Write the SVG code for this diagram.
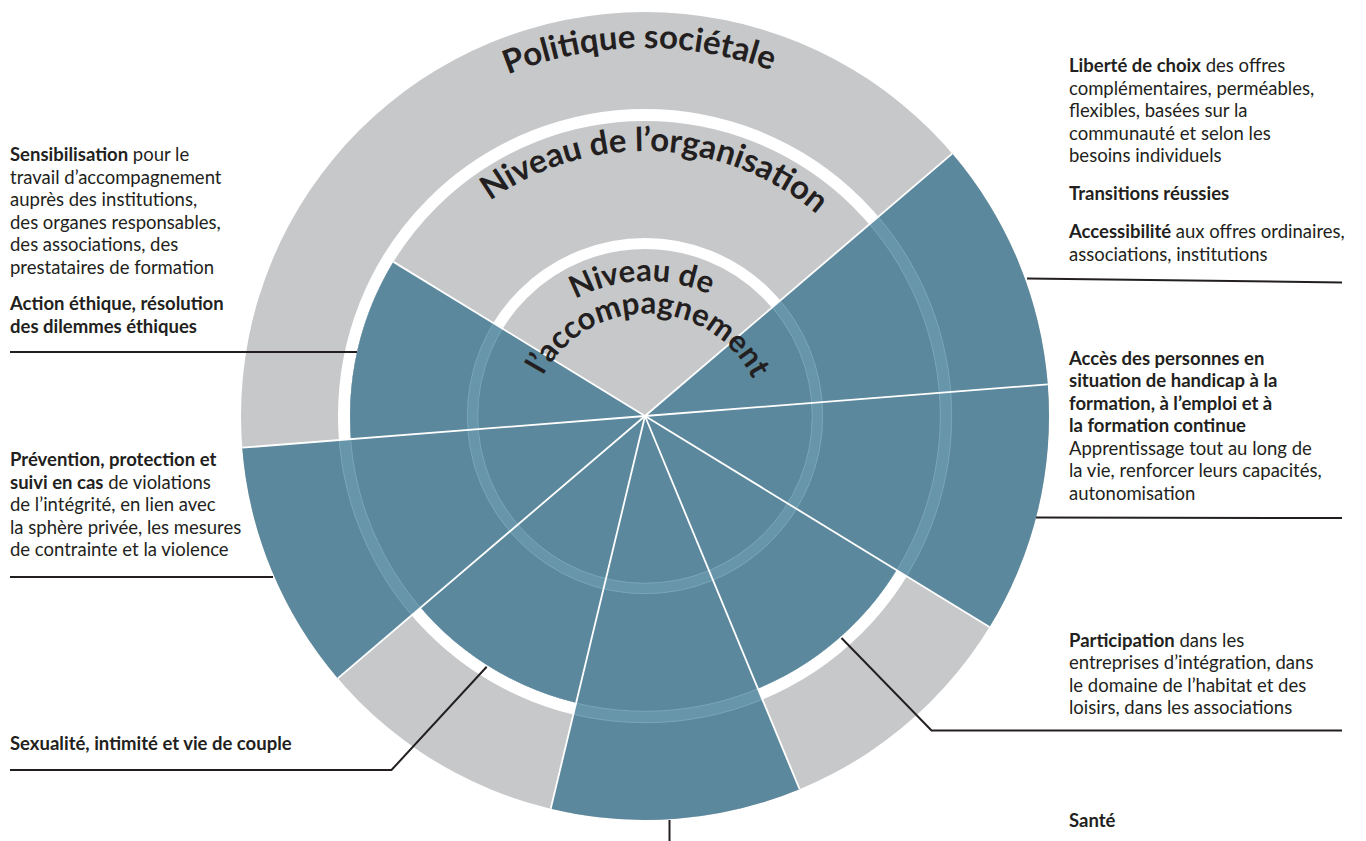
<svg xmlns="http://www.w3.org/2000/svg" width="1366" height="841" viewBox="0 0 1366 841">
<defs>
<style>
.gray{fill:#c7c8ca}
.blue{fill:#5b889d}
.spoke{stroke:#ffffff;stroke-width:1.8;fill:none}
.band{fill:none;stroke:#6796aa}
.bandedge{fill:none;stroke:#84acbe;stroke-width:0.7}
.gap{fill:none;stroke:#ffffff}
.lbl{font-family:Lato,"Noto Sans",sans-serif;font-size:18.5px;fill:#231f20}
.b{font-weight:700}
.arc{font-family:Lato,"Noto Sans",sans-serif;font-weight:700;font-size:33px;fill:#231f20}
.arcs{font-size:31px}
.lead{stroke:#231f20;stroke-width:2;fill:none}
</style>
<clipPath id="blueclip">
<path d="M645 416 L393.47 261.86 A295 295 0 1 0 869.32 224.41 Z"/>
<path d="M645 416 L989.47 627.09 A404 404 0 0 0 952.21 153.62 Z"/>
<path d="M645 416 L242.24 447.70 A404 404 0 0 0 337.79 678.38 Z"/>
<path d="M645 416 L550.69 808.84 A404 404 0 0 0 799.60 789.25 Z"/>
</clipPath>
<path id="arcPol" d="M281.63 357.81 A368 368 0 0 1 1006.36 346.41"/>
<path id="arcOrg" d="M386.08 359.55 A265 265 0 0 1 907.61 380.49"/>
<path id="arcNiv" d="M497.47 410.98 A151 151 0 0 1 794.70 400.61"/>
<path id="arcAcc" d="M529.04 428.91 A118 118 0 0 1 765.00 433.03"/>
</defs>

<g id="wheel">
<circle class="gray" cx="645" cy="416" r="404"/>
<circle class="gap" cx="645" cy="416" r="301" stroke-width="12"/>
<circle class="gap" cx="645" cy="416" r="172.5" stroke-width="11"/>
<g class="blue">
<path d="M645 416 L393.47 261.86 A295 295 0 1 0 869.32 224.41 Z"/>
<path d="M645 416 L989.47 627.09 A404 404 0 0 0 952.21 153.62 Z"/>
<path d="M645 416 L242.24 447.70 A404 404 0 0 0 337.79 678.38 Z"/>
<path d="M645 416 L550.69 808.84 A404 404 0 0 0 799.60 789.25 Z"/>
</g>
<g clip-path="url(#blueclip)">
<circle class="band" cx="645" cy="416" r="301" stroke-width="12"/>
<circle class="band" cx="645" cy="416" r="172.5" stroke-width="11"/>
<circle class="bandedge" cx="645" cy="416" r="295.3"/>
<circle class="bandedge" cx="645" cy="416" r="306.7"/>
<circle class="bandedge" cx="645" cy="416" r="167.3"/>
<circle class="bandedge" cx="645" cy="416" r="177.7"/>
</g>
<g id="spokes" class="spoke">
<line x1="645" y1="416" x2="1047.76" y2="384.30"/>
<line x1="645" y1="416" x2="952.21" y2="153.62"/>
<line x1="645" y1="416" x2="393.47" y2="261.86"/>
<line x1="645" y1="416" x2="242.24" y2="447.70"/>
<line x1="645" y1="416" x2="337.79" y2="678.38"/>
<line x1="645" y1="416" x2="550.69" y2="808.84"/>
<line x1="645" y1="416" x2="799.60" y2="789.25"/>
<line x1="645" y1="416" x2="989.47" y2="627.09"/>
</g>
</g>

<g id="ring-titles">
<text class="arc"><textPath href="#arcPol" startOffset="50%" text-anchor="middle">Politique sociétale</textPath></text>
<text class="arc"><textPath href="#arcOrg" startOffset="50%" text-anchor="middle">Niveau de l’organisation</textPath></text>
<text class="arc arcs"><textPath href="#arcNiv" startOffset="50%" text-anchor="middle">Niveau de</textPath></text>
<text class="arc arcs"><textPath href="#arcAcc" startOffset="50%" text-anchor="middle">l’accompagnement</textPath></text>
</g>

<g id="connectors" class="lead">
<line x1="10" y1="352" x2="357" y2="352"/>
<line x1="10" y1="577" x2="273" y2="577"/>
<polyline points="10,770 391.5,770 486.7,666.7"/>
<line x1="669.5" y1="820" x2="669.5" y2="841"/>
<polyline points="841.5,638 931.5,730.5 1342,730.5"/>
<line x1="1036" y1="517.5" x2="1342" y2="518"/>
<line x1="1027" y1="278.5" x2="1342" y2="282.5"/>
</g>

<g id="label-sensibilisation" class="lbl">
<text x="10" y="161"><tspan class="b">Sensibilisation</tspan> pour le</text>
<text x="10" y="183.5">travail d’accompagnement</text>
<text x="10" y="206">auprès des institutions,</text>
<text x="10" y="228.5">des organes responsables,</text>
<text x="10" y="251">des associations, des</text>
<text x="10" y="273.5">prestataires de formation</text>
</g>
<g id="label-ethique" class="lbl b">
<text x="10" y="310">Action éthique, résolution</text>
<text x="10" y="332.5">des dilemmes éthiques</text>
</g>
<g id="label-prevention" class="lbl">
<text x="10" y="466" class="b">Prévention, protection et</text>
<text x="10" y="488.5"><tspan class="b">suivi en cas</tspan> de violations</text>
<text x="10" y="511">de l’intégrité, en lien avec</text>
<text x="10" y="533.5">la sphère privée, les mesures</text>
<text x="10" y="556">de contrainte et la violence</text>
</g>
<g id="label-sexualite" class="lbl b">
<text x="10" y="750">Sexualité, intimité et vie de couple</text>
</g>
<g id="label-liberte" class="lbl">
<text x="1069" y="72"><tspan class="b">Liberté de choix</tspan> des offres</text>
<text x="1069" y="94.5">complémentaires, perméables,</text>
<text x="1069" y="117">flexibles, basées sur la</text>
<text x="1069" y="139.5">communauté et selon les</text>
<text x="1069" y="162">besoins individuels</text>
</g>
<g id="label-transitions" class="lbl b">
<text x="1069" y="200">Transitions réussies</text>
</g>
<g id="label-accessibilite" class="lbl">
<text x="1069" y="238"><tspan class="b">Accessibilité</tspan> aux offres ordinaires,</text>
<text x="1069" y="260.5">associations, institutions</text>
</g>
<g id="label-acces" class="lbl">
<text x="1069" y="364.5" class="b">Accès des personnes en</text>
<text x="1069" y="387" class="b">situation de handicap à la</text>
<text x="1069" y="409.5" class="b">formation, à l’emploi et à</text>
<text x="1069" y="432" class="b">la formation continue</text>
<text x="1069" y="454.5">Apprentissage tout au long de</text>
<text x="1069" y="477">la vie, renforcer leurs capacités,</text>
<text x="1069" y="499.5">autonomisation</text>
</g>
<g id="label-participation" class="lbl">
<text x="1069" y="646.5"><tspan class="b">Participation</tspan> dans les</text>
<text x="1069" y="669">entreprises d’intégration, dans</text>
<text x="1069" y="691.5">le domaine de l’habitat et des</text>
<text x="1069" y="714">loisirs, dans les associations</text>
</g>
<g id="label-sante" class="lbl b">
<text x="1069" y="827">Santé</text>
</g>
</svg>
